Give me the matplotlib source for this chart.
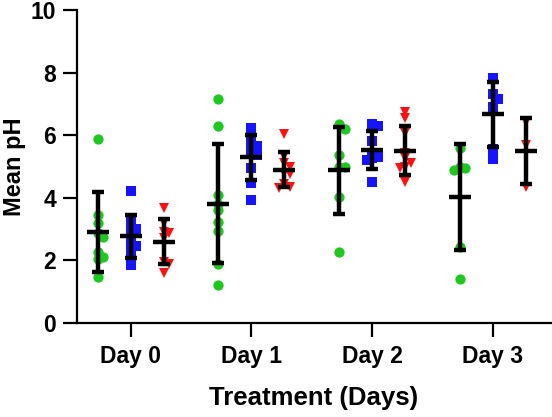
import numpy as np
import matplotlib
matplotlib.use("Agg")
import matplotlib.pyplot as plt

plt.rcParams['font.family'] = ['Liberation Sans', 'DejaVu Sans']
plt.rcParams['font.weight'] = 'bold'

days = ["Day 0", "Day 1", "Day 2", "Day 3"]

green_vals = [
    [5.88, 3.45, 3.20, 2.87, 2.76, 2.28, 2.12, 2.05, 1.48],
    [7.16, 6.29, 4.09, 3.80, 3.61, 3.24, 2.94, 1.90, 1.23],
    [6.35, 6.19, 5.37, 4.97, 4.97, 4.04, 2.26],
    [5.58, 4.99, 4.94, 4.89, 2.44, 1.40],
]
blue_vals = [
    [4.23, 3.30, 3.05, 3.00, 2.80, 2.60, 2.45, 2.30, 2.10, 1.85],
    [6.22, 5.90, 5.69, 5.65, 5.42, 5.37, 4.94, 4.48, 3.93],
    [6.36, 6.29, 5.83, 5.44, 5.30, 5.26, 5.20, 4.50],
    [7.84, 7.33, 7.17, 6.91, 5.55, 5.25],
]
red_vals = [
    [3.66, 3.18, 2.92, 2.87, 2.70, 1.95, 1.90, 1.59],
    [6.04, 5.34, 5.10, 5.00, 4.80, 4.75, 4.45, 4.35, 4.30],
    [6.75, 6.54, 6.06, 5.44, 5.26, 5.11, 4.98, 4.95, 4.51],
    [6.43, 5.69, 4.35],
]

series = [
    (green_vals, '#1ec81e', 'o', -0.273, 7.4),
    (blue_vals, '#1414ff', 's', 0.0, 6.8),
    (red_vals, '#ff1010', 'v', 0.273, 7.6),
]

W, H = 552, 417
fig = plt.figure(figsize=(W / 100, H / 100), dpi=100)
ax_left, ax_right, ax_bottom, ax_top = 77, 552, 323, 10
ax = fig.add_axes([ax_left / W, 1 - ax_bottom / H,
                   (ax_right - ax_left) / W, (ax_bottom - ax_top) / H])
xmin, xmax = -0.445, 3.49
ymin, ymax = 0, 10
ax.set_xlim(xmin, xmax)
ax.set_ylim(ymin, ymax)

px_per_x = (ax_right - ax_left) / (xmax - xmin)
px_per_y = (ax_bottom - ax_top) / (ymax - ymin)


def swarm(vals, step_px=5.5, min_d=5.4):
    placed = []
    offs = []
    for v in vals:
        yp = v * px_per_y
        best, best_d = 0.0, -1.0
        for k in [0, 1, -1, 2, -2]:
            xp = k * step_px
            d = min([np.hypot(xp - px, yp - py) for px, py in placed] or [1e9])
            if d >= min_d:
                best = xp
                break
            if d > best_d:
                best, best_d = xp, d
        placed.append((best, yp))
        offs.append(best / px_per_x)
    return np.array(offs)


for vals_list, color, marker, off, ms in series:
    for i, vals in enumerate(vals_list):
        v = np.array(vals)
        xs = i + off + swarm(vals)
        ax.plot(xs, v, linestyle='none', marker=marker, color=color,
                markersize=ms, markeredgewidth=0, zorder=2)
        m = v.mean()
        sd = v.std(ddof=1)
        ax.errorbar([i + off], [m], yerr=[sd], fmt='none', ecolor='black',
                    elinewidth=3.2, capsize=4, capthick=3.2, zorder=3)
        ax.plot([i + off], [m], marker='_', color='black', markersize=16,
                markeredgewidth=3.2, zorder=3)

for s in ['top', 'right']:
    ax.spines[s].set_visible(False)
for s in ['left', 'bottom']:
    ax.spines[s].set_linewidth(1.6)

ax.set_yticks(np.arange(0, 11, 2))
ax.set_xticks(range(len(days)))
ax.set_xticklabels(days)
ax.tick_params(axis='both', direction='out', length=10, width=1.6,
               labelsize=16.5)
ax.tick_params(axis='x', pad=6)
ax.tick_params(axis='y', pad=5)

ax.set_ylabel('Mean pH', fontsize=17, fontweight='bold')
ax.yaxis.set_label_coords(-0.108, 0.5)
ax.set_xlabel('Treatment (Days)', fontsize=18.5, fontweight='bold')
ax.xaxis.set_label_coords(0.499, -0.2)

fig.savefig('out.png', dpi=100)
